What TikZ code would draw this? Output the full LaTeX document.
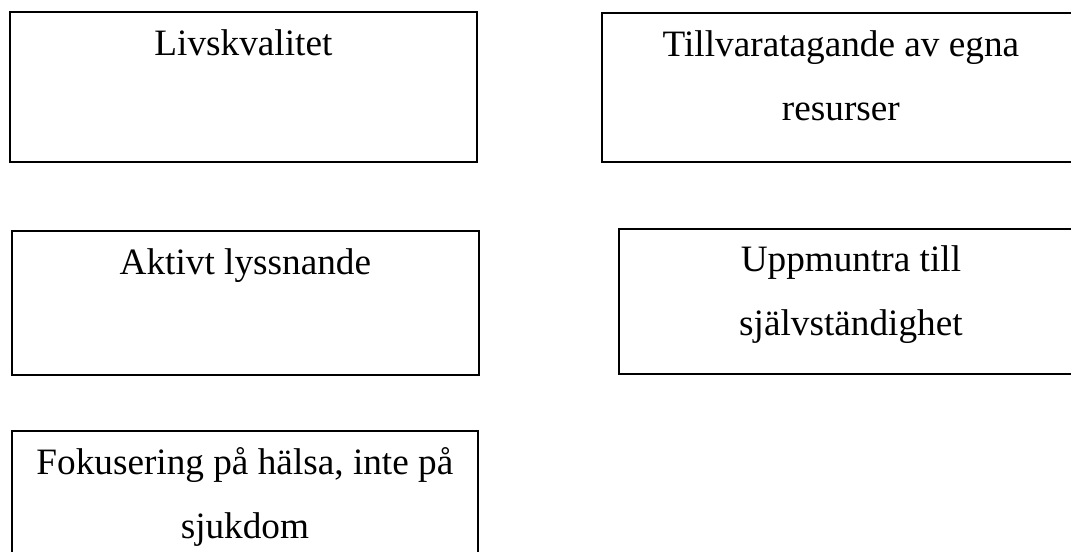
\documentclass[tikz,border=0pt]{standalone}
\usepackage{fontspec}
\setmainfont{Liberation Serif}
\usetikzlibrary{positioning}

\begin{document}
\begin{tikzpicture}[
			x=0.02cm, y=-0.02cm,
			font=\fontsize{21.2}{35.9}\selectfont,
			frame/.style={
				rectangle,
				draw=black,
				line width=1.1pt,
				anchor=north west,
				inner sep=0pt
			},
			txt/.style={
				anchor=base,
				inner sep=0pt
			}
			]
			\useasboundingbox (0,0) rectangle (1071,551);
			
			% the frames
			\node [frame, minimum width=9.34cm, minimum height=3cm] (livs) at (9,11) {};
			\node [frame, minimum width=9.56cm, minimum height=2.98cm] (tillvara) at (601,12) {};
			\node [frame, minimum width=9.34cm, minimum height=2.88cm] (aktiv) at (11,230) {};
			\node [frame, minimum width=9.28cm, minimum height=2.9cm] (uppmuntra) at (618,228) {};
			\node [frame, minimum width=9.32cm, minimum height=2.8cm] (fokus) at (11,430) {};
			
			% the texts, first baseline below the top edge
			\node [txt] (livsText) at ([yshift=-0.9cm]livs.north) {Livskvalitet};
			\node [txt] (tillvaraText) at ([yshift=-0.9cm]tillvara.north)
			{%
				\begin{tabular}[t]{c}
				Tillvaratagande av egna\\
				resurser
				\end{tabular}
			};
			\node [txt] (aktivText) at ([yshift=-0.9cm]aktiv.north) {Aktivt lyssnande};
			\node [txt] (uppmuntraText) at ([yshift=-0.88cm]uppmuntra.north)
			{%
				\begin{tabular}[t]{c}
				Uppmuntra till\\
				självständighet
				\end{tabular}
			};
			\node [txt] (fokusText) at ([yshift=-0.9cm]fokus.north)
			{%
				\begin{tabular}[t]{c}
				Fokusering på hälsa, inte på\\
				sjukdom
				\end{tabular}
			};
			
\end{tikzpicture}
\end{document}
